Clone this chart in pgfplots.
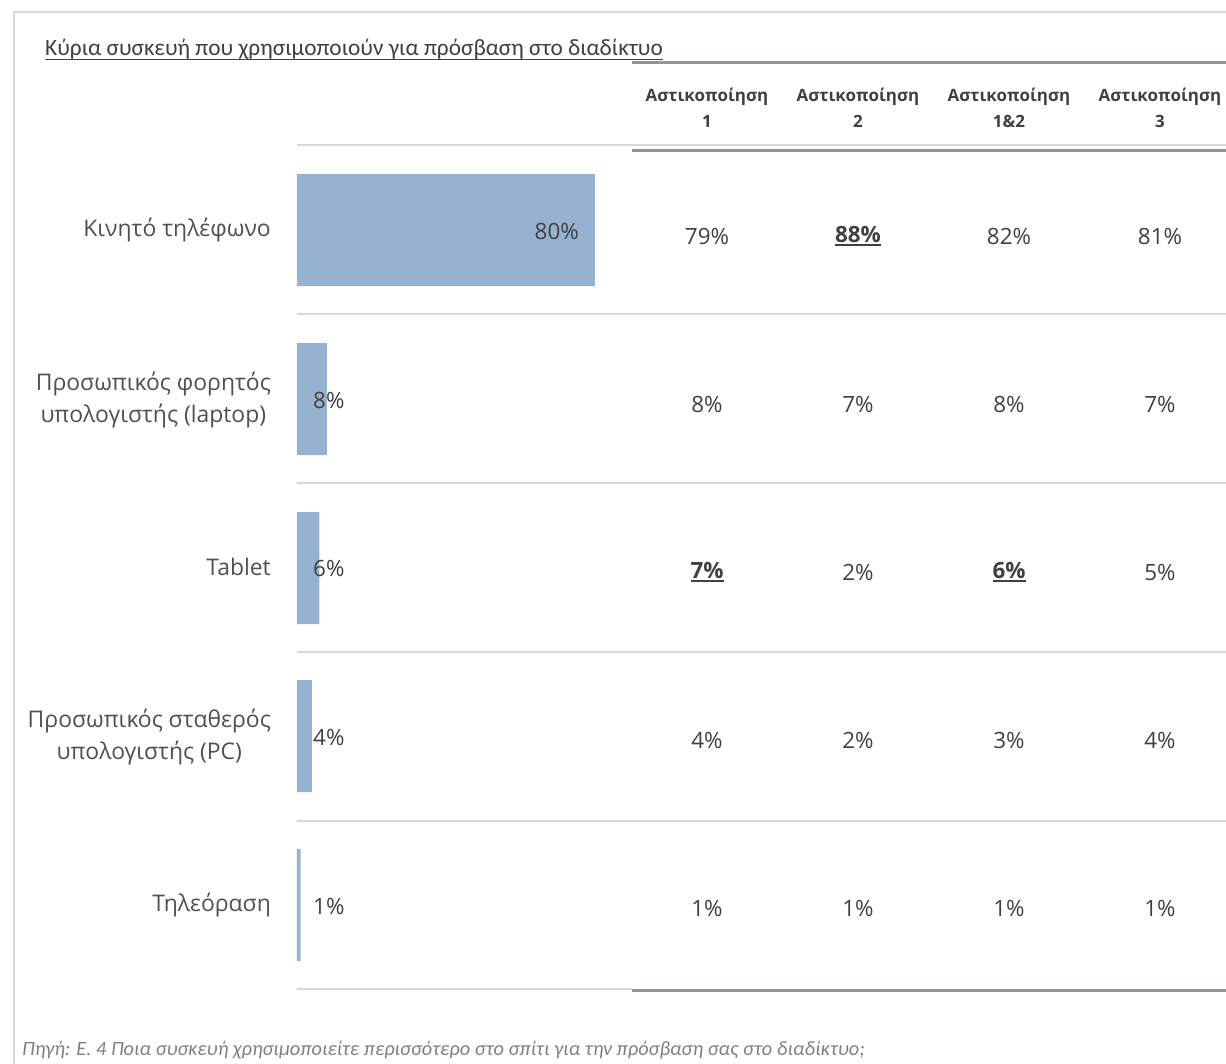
\documentclass[border=0pt]{standalone}
\usepackage{pgfplots}
\pgfplotsset{compat=1.18}
\usepackage{fontspec}
\setmainfont{Open Sans}
\newfontfamily\titlefont{Carlito}
\definecolor{barc}{HTML}{95B3D0}
\definecolor{txt}{HTML}{404040}
\definecolor{cat}{HTML}{505050}
\definecolor{gridc}{HTML}{D9D9D9}
\definecolor{taupe}{HTML}{9C8F8F}
\definecolor{foot}{HTML}{808080}
\newsavebox\ulbox
\protected\def\myul#1#2#3{\sbox\ulbox{#3}\rlap{\rule[-#1]{\wd\ulbox}{#2}}\usebox\ulbox}
\protected\def\hl#1{\textbf{\myul{3.5bp}{1.8bp}{#1}}}
\newcommand\valfont{\fontsize{22.5}{26}\selectfont}
\newcommand\catfont{\fontsize{23}{32}\selectfont}
\newcommand\headfont{\fontsize{17}{26}\selectfont\bfseries}
\begin{document}
\begin{tikzpicture}
\useasboundingbox (0,0) rectangle (1226bp,-1064bp);
\pgfplotsset{base/.style={at={(0,0)}, anchor=north west, scale only axis,
  width=1226bp, height=1064bp, hide axis, ymin=0, ymax=1064, y dir=reverse, clip=false}}
% bars
\begin{axis}[base, xmin=-79.7315, xmax=249.396]
\addplot[xbar, bar width=112bp, fill=barc, draw=none] coordinates {(80,230) (8,399) (6,568) (4,736) (1,905)};
\end{axis}
% table and texts in pixel coordinates
\begin{axis}[base, xmin=0, xmax=1226]
\draw[gridc, line width=1.5bp] (axis cs:14,1064) -- (axis cs:14,12) -- (axis cs:1226,12);
\draw[gridc, line width=2bp] (axis cs:297,145) -- (axis cs:1226,145);
\draw[gridc, line width=2bp] (axis cs:297,314) -- (axis cs:1226,314);
\draw[gridc, line width=2bp] (axis cs:297,483) -- (axis cs:1226,483);
\draw[gridc, line width=2bp] (axis cs:297,652) -- (axis cs:1226,652);
\draw[gridc, line width=2bp] (axis cs:297,821) -- (axis cs:1226,821);
\draw[gridc, line width=2bp] (axis cs:297,989) -- (axis cs:632,989);
\draw[taupe, line width=3bp] (axis cs:632,62) -- (axis cs:1226,62);
\draw[taupe, line width=3bp] (axis cs:632,150) -- (axis cs:1226,150);
\draw[taupe, line width=3bp] (axis cs:632,990) -- (axis cs:1226,990);
\node[anchor=base west, inner sep=0pt, text=txt] at (axis cs:45,55)
  {\titlefont\fontsize{23.4}{26}\selectfont\myul{5bp}{1.2bp}{Κύρια συσκευή που χρησιμοποιούν για πρόσβαση στο διαδίκτυο}};
\node[anchor=base west, inner sep=0pt, text=foot] at (axis cs:22,1055)
  {\titlefont\itshape\fontsize{20.4}{22}\selectfont Πηγή: Ε. 4 Ποια συσκευή χρησιμοποιείτε περισσότερο στο σπίτι για την πρόσβαση σας στο διαδίκτυο;};
% headers
\addplot[draw=none, mark=none, nodes near coords, point meta=explicit symbolic,
  every node near coord/.append style={anchor=center, align=center, inner sep=0pt, font=\headfont, text=txt}]
  coordinates {(707,108) [Αστικοποίηση\\1] (858,108) [Αστικοποίηση\\2] (1009,108) [Αστικοποίηση\\1\&2] (1160,108) [Αστικοποίηση\\3]};
% category labels
\addplot[draw=none, mark=none, nodes near coords, point meta=explicit symbolic,
  every node near coord/.append style={anchor=east, align=center, inner sep=0pt, font=\catfont, text=cat}]
  coordinates {(271,230) [Κινητό τηλέφωνο] (271,400) [Προσωπικός φορητός\\υπολογιστής (laptop)]
  (271,567) [Tablet] (271,737) [Προσωπικός σταθερός\\υπολογιστής (PC)] (271,905) [Τηλεόραση]};
% bar labels
\addplot[draw=none, mark=none, nodes near coords, point meta=explicit symbolic,
  every node near coord/.append style={anchor=east, inner sep=0pt, font=\valfont, text=txt}]
  coordinates {(579,231) [80\%]};
\addplot[draw=none, mark=none, nodes near coords, point meta=explicit symbolic,
  every node near coord/.append style={anchor=west, inner sep=0pt, font=\valfont, text=txt}]
  coordinates {(313,400) [8\%] (313,568) [6\%] (313,737) [4\%] (313,906) [1\%]};
% table values
\addplot[draw=none, mark=none, nodes near coords, point meta=explicit symbolic,
  every node near coord/.append style={anchor=center, inner sep=0pt, font=\valfont, text=txt}]
  coordinates {
  (707,236) [79\%] (858,236) [\hl{88\%}] (1009,236) [82\%] (1160,236) [81\%]
  (707,404) [8\%] (858,404) [7\%] (1009,404) [8\%] (1160,404) [7\%]
  (707,572) [\hl{7\%}] (858,572) [2\%] (1009,572) [\hl{6\%}] (1160,572) [5\%]
  (707,740) [4\%] (858,740) [2\%] (1009,740) [3\%] (1160,740) [4\%]
  (707,908) [1\%] (858,908) [1\%] (1009,908) [1\%] (1160,908) [1\%]};
\end{axis}
\end{tikzpicture}
\end{document}
